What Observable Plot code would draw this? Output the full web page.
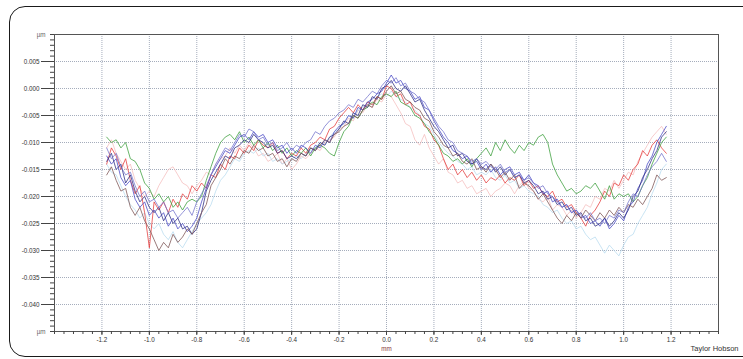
<!DOCTYPE html>
<html><head><meta charset="utf-8">
<script src="https://cdn.jsdelivr.net/npm/d3@7"></script>
<script src="https://cdn.jsdelivr.net/npm/@observablehq/plot@0.6"></script>
<style>
body{margin:0;background:#fff;}
#wrap{position:relative;width:743px;height:359px;overflow:hidden;font-family:"Liberation Sans",Arial,sans-serif;}
#border{position:absolute;left:9px;top:6px;width:760px;height:351px;border:1.8px solid #1a1a1a;border-radius:16px;box-sizing:border-box;pointer-events:none;}
#wrap svg{display:block;}
</style></head><body><div id="wrap"><div id="border"></div></div>
<script>
// sample positions (mm)
const xs = [-1.18,-1.16,-1.14,-1.12,-1.10,-1.08,-1.06,-1.04,-1.02,-1.00,
-0.98,-0.96,-0.94,-0.92,-0.90,-0.88,-0.86,-0.84,-0.82,-0.80,
-0.78,-0.76,-0.74,-0.72,-0.70,-0.68,-0.66,-0.64,-0.62,-0.60,
-0.58,-0.56,-0.54,-0.52,-0.50,-0.48,-0.46,-0.44,-0.42,-0.40,
-0.38,-0.36,-0.34,-0.32,-0.30,-0.28,-0.26,-0.24,-0.22,-0.20,
-0.18,-0.16,-0.14,-0.12,-0.10,-0.08,-0.06,-0.04,-0.02,0.00,
0.02,0.04,0.06,0.08,0.10,0.12,0.14,0.16,0.18,0.20,
0.22,0.24,0.26,0.28,0.30,0.32,0.34,0.36,0.38,0.40,
0.42,0.44,0.46,0.48,0.50,0.52,0.54,0.56,0.58,0.60,
0.62,0.64,0.66,0.68,0.70,0.72,0.74,0.76,0.78,0.80,
0.82,0.84,0.86,0.88,0.90,0.92,0.94,0.96,0.98,1.00,
1.02,1.04,1.06,1.08,1.10,1.12,1.14,1.16,1.18];

// profile heights in nm (1 nm = 0.001 µm)
const pinkNm = [-11,-9.5,-12,-13.5,-15,-14,-17,-18.5,-20,-19,
-20,-18,-16.5,-15,-14.5,-16,-17.5,-18,-19.5,-18,
-17,-15.5,-16,-14,-13,-12.5,-11,-12,-10.5,-11.5,
-10,-11,-12.5,-12,-13.5,-13,-12,-14,-13,-15,
-14,-12.5,-13,-12,-11,-11.5,-10,-9.5,-9,-7.5,
-7,-5.5,-6,-4,-4.5,-3,-3.5,-2,-2.5,-1,
-1.5,-3,-4.5,-6.5,-7,-9.5,-10.5,-8.5,-11,-12.5,
-14,-13,-15.5,-16,-17.5,-17,-18.5,-18,-19.5,-19,
-18.5,-20,-19,-18.5,-17.5,-18,-19.5,-18,-17,-18.5,
-19,-20.5,-21,-20,-22.5,-21.5,-22,-23.5,-22.5,-24,
-23,-21.5,-22,-20,-20.5,-18.5,-19,-17,-18.5,-17,
-15.5,-16,-13.5,-12,-10.5,-9,-8,-7,-8.5];

const lightBlueNm = [-14,-15.5,-16,-18,-20,-21.5,-22.5,-24,-23,-25,
-26,-25,-27,-28,-26.5,-28.5,-29.5,-28,-26.5,-25,
-24,-23,-21.5,-19,-17,-16,-14.5,-13,-13.5,-12,
-11.5,-12,-11,-12.5,-12,-13.5,-13,-14,-13.5,-13,
-12.5,-13,-12,-11.5,-11,-10,-10.5,-9,-8,-7.5,
-6.5,-5,-5.5,-4,-3.5,-2.5,-3,-1.5,-1,-1.5,
-0.5,-1.5,-2,-2.5,-3.5,-4,-5,-6.5,-7,-8.5,
-10,-11,-12,-12.5,-13.5,-14,-15,-14.5,-16,-15.5,
-16,-15,-16.5,-17,-16,-17.5,-17,-18.5,-18,-19,
-19.5,-20,-21.5,-22,-23,-22.5,-24,-25,-24.5,-26,
-25.5,-27,-28,-27.5,-29,-30.5,-29,-30,-31,-29,
-27.5,-27,-25,-23.5,-22,-19.5,-17.5,-15,-14];

const redNm = [-14,-11,-12.5,-15,-13,-17,-19.5,-18,-23,-29.5,
-21,-22.5,-21,-23,-20.5,-22,-19.5,-20.5,-18,-19,
-17.5,-18.5,-16,-16.5,-14,-15,-12.5,-13,-11,-12,
-10.5,-11.5,-9.5,-10.5,-11,-10,-12,-11.5,-13,-12,
-12.5,-11,-12,-10.5,-10,-9,-9.5,-7.5,-7,-5.5,
-4.5,-3.5,-4.5,-3,-4,-2.5,-3,-1.5,-2,0.5,
0,-1.5,-1,-3,-2.5,-4.5,-5,-7,-7.5,-9.5,
-10.5,-13,-15,-14,-16,-15,-16.5,-15.5,-17,-16,
-17.5,-16.5,-17,-16,-17.5,-16.5,-17,-16,-18,-17,
-18.5,-18,-19.5,-20,-19,-21,-20.5,-22,-21.5,-23,
-24,-25.5,-23.5,-22.5,-21,-19,-20,-17.5,-18,-16,
-17,-15,-14,-11.5,-12.5,-10.5,-9.5,-11,-12];

const greenNm = [-9,-10,-9.5,-11,-10,-13,-13.5,-15,-17.5,-18.5,
-20.5,-19.5,-21,-20,-22,-21,-22.5,-21,-20.5,-21,
-20,-17,-14.5,-12,-10,-9,-8.5,-9.5,-8,-10,
-9,-10.5,-9.5,-11,-10,-11.5,-10.5,-12,-11,-12.5,
-11.5,-12,-11,-12.5,-11,-10.5,-11,-12,-12.5,-10,
-8,-7,-5,-5.5,-4,-3.5,-2.5,-3,-1.5,-1,
-1.5,-0.5,-2.5,-3,-3.5,-5,-5.5,-6.5,-8,-9,
-10.5,-12,-12.5,-13.5,-13,-14,-13,-14.5,-13,-12,
-11,-12.5,-10,-11.5,-9.5,-11,-12,-10.5,-11.5,-10,
-10.5,-9,-8.5,-10,-14,-16,-17.5,-19,-18.5,-19.5,
-19,-18,-18.5,-17.5,-19,-20.5,-18,-20.5,-19.5,-20,
-19.5,-21,-20,-18,-16.5,-14,-12,-10,-9];

const blueNm = [-12.5,-14,-13,-16.5,-18,-17,-20.5,-22,-21,-23.5,
-22.5,-24,-23,-25.5,-24,-26,-25,-26.5,-25.5,-24,
-21,-18.5,-16,-14.5,-13,-11.5,-12,-10.5,-9,-8.5,
-9.5,-8,-9,-8.5,-10,-9.5,-11,-10.5,-12,-11,
-12,-10.5,-11,-12,-10.5,-11,-9.5,-10,-8,-7,
-6.5,-5,-5.5,-3.5,-4,-2.5,-2,-1,-0.5,1,
2.5,1,1.5,0,-0.5,-2,-1.5,-3.5,-4,-6,
-7.5,-9,-10,-11.5,-12,-13,-12.5,-14,-13.5,-15,
-14,-15.5,-14.5,-16,-15,-14.5,-16,-15.5,-17,-16,
-17.5,-18,-19.5,-19,-21,-20.5,-22,-21.5,-23,-22.5,
-24,-23.5,-25,-24.5,-25.5,-24,-26,-25,-23.5,-24.5,
-22,-21,-18.5,-17,-14,-12.5,-10,-8.5,-7];

const navyNm = [-13.5,-12,-15,-14,-17.5,-16,-19,-21,-20,-22,
-23,-22,-24.5,-23,-25,-24,-26,-25.5,-27,-26,
-23,-19,-17,-15.5,-14,-12.5,-13,-11,-10.5,-9.5,
-10,-8.5,-9.5,-10,-11,-10.5,-12,-11.5,-13,-12.5,
-13,-12,-12.5,-11,-11.5,-10,-10.5,-9,-8.5,-7.5,
-6,-6.5,-4.5,-5,-3,-3.5,-1.5,-2,0,0.5,
1.5,0,-0.5,0.5,-1,-2.5,-2,-4,-5.5,-7,
-8,-9.5,-11,-10.5,-12.5,-12,-13.5,-14,-13,-14.5,
-15,-14,-15.5,-14.5,-16,-15,-16.5,-16,-17.5,-17,
-18,-19.5,-19,-20.5,-20,-21.5,-21,-22.5,-22,-23.5,
-23,-24.5,-24,-25.5,-25,-24,-25.5,-24.5,-23,-24,
-22.5,-20,-19,-16.5,-15,-13,-11.5,-9,-8];

const brownNm = [-16,-14.5,-17,-19,-18.5,-22,-23.5,-22,-24.5,-26,
-28,-30,-28.5,-29.5,-27,-28.5,-27.5,-26,-27,-25,
-23,-21.5,-18,-16.5,-15,-13,-14,-12.5,-13,-11.5,
-12,-10.5,-11.5,-11,-12.5,-12,-13.5,-13,-14.5,-13,
-13.5,-12,-12.5,-11,-11.5,-10.5,-9.5,-10,-8.5,-8,
-7,-6.5,-5,-5.5,-4,-3,-3.5,-1.5,-2,-0.5,
0.5,-1,-0.5,-2,-2.5,-3.5,-4,-5.5,-6,-8,
-9,-10.5,-11,-12.5,-12,-13.5,-14,-13,-15,-14.5,
-15.5,-14,-15,-16.5,-15.5,-17,-16,-18.5,-17.5,-18,
-19,-20.5,-19.5,-21,-22.5,-24,-25,-23.5,-24.5,-23,
-24,-22.5,-23.5,-24.5,-23,-24,-22.5,-23.5,-22,-23,
-21.5,-22,-20.5,-21.5,-20,-18.5,-16,-17,-16.5];

const violetNm = [-11,-13,-12,-14.5,-16,-15.5,-18,-20,-19,-21,
-20.5,-22,-21,-23,-22.5,-24,-23,-22,-23.5,-21,
-19.5,-18,-16,-14,-12.5,-11,-11.5,-10,-8.5,-9,
-7.5,-8,-9.5,-9,-10.5,-10,-11.5,-11,-10,-11.5,
-10.5,-11,-10,-9.5,-8,-8.5,-7,-6,-5.5,-4.5,
-4,-3,-3.5,-2,-2.5,-1.5,-0.5,-1,0.5,1.5,
1,2,0.5,1,-0.5,-1,-2,-2.5,-4,-5.5,
-7,-8,-9.5,-10,-11.5,-12,-12.5,-13.5,-13,-14,
-13.5,-14.5,-15,-14,-15.5,-15,-16.5,-16,-17,-16.5,
-17.5,-18.5,-18,-19.5,-20,-21,-22,-21.5,-23,-22.5,
-23.5,-24,-23,-24.5,-24,-25,-23.5,-24,-22.5,-23,
-21,-19.5,-20,-18,-16,-14.5,-13.5,-12,-13.5];

const seriesNames = ["pink","lightblue","red","green","blue","navy","brown","violet"];
const seriesColors = ["#f3b4b4","#b4d9ee","#e53a3a","#3a9e3a","#4646c4","#2a2a80","#7a5252","#7272cc"];
const seriesOpacity = [0.75,0.8,0.85,0.85,0.85,0.85,0.85,0.85];
const seriesValues = [pinkNm,lightBlueNm,redNm,greenNm,blueNm,navyNm,brownNm,violetNm];

// axis ticks
const xMajor = [-1.2,-1.0,-0.8,-0.6,-0.4,-0.2,0.0,0.2,0.4,0.6,0.8,1.0,1.2];
const yMajor = [0.005,0.000,-0.005,-0.010,-0.015,-0.020,-0.025,-0.030,-0.035,-0.040];
const xMinor = d3.range(-35, 36).map(i => i * 0.04);
const yMinor = d3.range(-45, 11).map(i => i / 1000);

seriesValues.forEach((v, k) => { if (v.length !== xs.length) throw new Error(seriesNames[k] + " length " + v.length); });

const rows = [];
seriesValues.forEach((vals, k) => vals.forEach((v, i) => rows.push({x: xs[i], y: v / 1000, s: seriesNames[k]})));

const gridStyle = {stroke: "#8e98ab", strokeOpacity: 0.8, strokeDasharray: "1,1"};
const font = "Liberation Sans, Arial, sans-serif";

const marks = [
  Plot.gridX(xMajor, gridStyle),
  Plot.gridY(yMajor, gridStyle),
  ...seriesNames.map((n, k) => Plot.line(rows.filter(r => r.s === n), {x: "x", y: "y", stroke: seriesColors[k], strokeWidth: 0.9, strokeOpacity: seriesOpacity[k]})),
  Plot.frame({stroke: "#555", strokeWidth: 1}),
  Plot.axisY(yMinor, {tickSize: 4, tickFormat: () => "", stroke: "#444", label: null}),
  Plot.axisY(yMajor, {tickSize: 13, tickPadding: 2, tickFormat: d => d.toFixed(3), stroke: "#444", fill: "#333", fontSize: 6.3, label: null}),
  Plot.axisX(xMinor, {tickSize: 3, tickFormat: () => "", stroke: "#444", label: null}),
  Plot.axisX(xMajor, {tickSize: 4, tickPadding: 2, tickFormat: d => d.toFixed(1), stroke: "#444", fill: "#333", fontSize: 6.3, label: null}),
  Plot.text(["µm", "µm"], {y: [0.010, -0.045], text: d => d, frameAnchor: "left", dx: -9, textAnchor: "end", fill: "#666", fontSize: 6.3}),
  Plot.text(["mm"], {x: [0], text: d => d, frameAnchor: "bottom", dy: 19, fill: "#8a3a3a", fontSize: 6.3}),
  Plot.text(["Taylor Hobson"], {frameAnchor: "bottom-right", text: d => d, dx: 20, dy: 19, textAnchor: "end", fill: "#333", fontSize: 7.5})
];

const chart = Plot.plot({
  width: 743, height: 359,
  marginLeft: 54, marginRight: 25, marginTop: 34, marginBottom: 28,
  style: {fontFamily: font, background: "transparent"},
  x: {domain: [-1.4, 1.4], axis: null},
  y: {domain: [-0.045, 0.010], axis: null},
  marks
});
document.getElementById("wrap").prepend(chart);
</script>
</body></html>
